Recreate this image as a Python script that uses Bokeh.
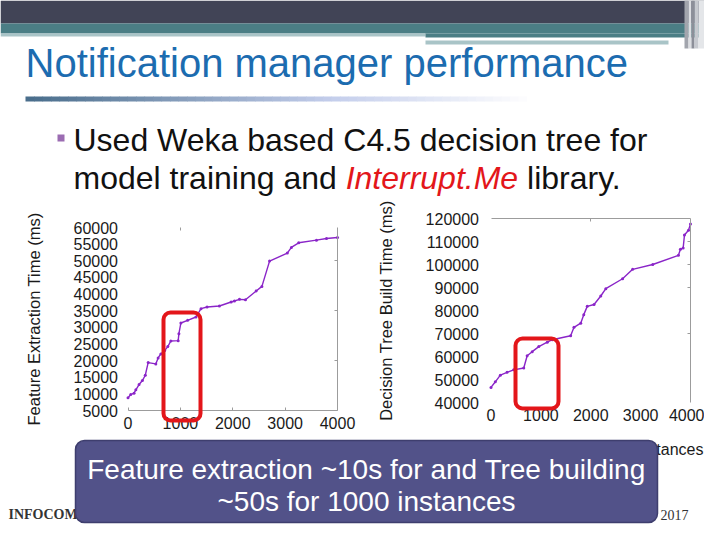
from bokeh.plotting import figure
from bokeh.models import (Range1d, LinearAxis, FixedTicker, Label, BoxAnnotation,
                          ColumnDataSource, BasicTickFormatter)
from bokeh.embed import file_html
from bokeh.resources import INLINE

# ---------------- data ----------------
fe_instances = [0, 52, 115, 150, 211, 275, 330, 385, 531, 575, 627, 700, 760, 818, 958, 972,
                1010, 1138, 1298, 1394, 1509, 1745, 1969, 2032, 2128, 2243, 2448, 2557, 2703,
                3042, 3119, 3259, 3598, 3790, 4000]
fe_time_ms = [8800, 9800, 10200, 11200, 12800, 14000, 15600, 19400, 19000, 20800, 22000, 23000,
              24200, 25900, 26000, 28100, 31300, 32100, 33100, 35600, 36100, 36400, 37600,
              37900, 38400, 38300, 40900, 42300, 49900, 52300, 54000, 55400, 56200, 56700, 57000]

dt_instances = [0, 87, 187, 322, 456, 657, 725, 826, 959, 1128, 1229, 1597, 1664, 1799, 1860,
                1930, 2066, 2201, 2302, 2638, 2840, 3243, 3758, 3798, 3853, 3879, 3960, 4000]
dt_time_ms = [46550, 49000, 51900, 53100, 54200, 55000, 60300, 62100, 64300, 66200, 67300,
              69000, 72700, 74500, 78200, 81800, 82600, 86300, 89500, 93800, 97900, 100000,
              104000, 106600, 107200, 112800, 114900, 117600]

x_ticks = [0, 1000, 2000, 3000, 4000]
fe_y_ticks = [5000, 10000, 15000, 20000, 25000, 30000, 35000, 40000, 45000, 50000, 55000, 60000]
dt_y_ticks = [40000, 50000, 60000, 70000, 80000, 90000, 100000, 110000, 120000]

title_text = "Notification manager performance"
bullet_line1 = "Used Weka based C4.5 decision tree for"
bullet_line2a = "model training and"
bullet_line2b = "Interrupt.Me"
bullet_line2c = "library."
fe_ylabel = "Feature Extraction Time (ms)"
dt_ylabel = "Decision Tree Build Time (ms)"
xlabel = "Number of Instances"
callout1 = "Feature extraction ~10s for and Tree building"
callout2 = "~50s for 1000 instances"

# ---------------- slide canvas (pixel coordinates of the slide) ----------------
W, H = 704, 524
X0, X1 = 0, 704
YB, YT = 524, 0
p = figure(width=W, height=H, x_range=Range1d(X0, X1), y_range=Range1d(YB, YT),
           min_border=0, x_axis_location=None, y_axis_location=None,
           output_backend="svg", toolbar_location=None, outline_line_color=None,
           background_fill_color="white", border_fill_color="white")
p.grid.visible = False


def mapped(d0, p0, d1, p1, lo, hi):
    k = (d1 - d0) / (p1 - p0)
    return Range1d(start=d0 + (lo - p0) * k, end=d0 + (hi - p0) * k)


p.extra_x_ranges = {
    "lx": mapped(0, 127.5, 4000, 337, X0, X1),
    "rx": mapped(0, 490.5, 4000, 690, X0, X1),
}
p.extra_y_ranges = {
    "ly": mapped(5000, 410, 60000, 227, YB, YT),
    "ry": mapped(40000, 402, 120000, 218, YB, YT),
}

FONT = "Liberation Sans"


def box(l, r, t, b, color, **kw):
    p.add_layout(BoxAnnotation(left=l, right=r, top=t, bottom=b, fill_color=color,
                               fill_alpha=1, line_color=None, level="underlay", **kw))


# header bars
box(0, 720, 0, 23, "#414456")
box(0, 720, 23, 33, "#4b7e85")
box(0, 425, 33, 36, "#a9c4c7")
box(425, 720, 33, 37, "#4b7e85")
box(425, 668, 40, 44, "#a9c4c7")
for l, r, c in [(684, 688, "#a2a5ad"), (688, 691, "#dcdee2"), (691, 694, "#8c8f99"),
                (694, 698, "#c6c9cf"), (698, 704, "#e4e6e9")]:
    box(l, r, 0, 48, c)

# gradient underline below title
n = 60
gx0, gx1 = 25, 535
c0 = (74, 110, 140)
c1 = (196, 206, 236)
for i in range(n):
    t = i / (n - 1)
    if t < 0.6:
        u = t / 0.6
        col = tuple(int(c0[j] + (c1[j] - c0[j]) * u) for j in range(3))
    else:
        u = (t - 0.6) / 0.4
        col = tuple(int(c1[j] + (255 - c1[j]) * u) for j in range(3))
    l = gx0 + (gx1 - gx0) * i / n
    r = gx0 + (gx1 - gx0) * (i + 1) / n + 0.6
    box(l, r, 96, 101, "#%02x%02x%02x" % col)

# title
p.add_layout(Label(x=25, y=62, text=title_text, text_font=FONT, text_font_size="40px",
                   text_color="#1c6cb0", text_baseline="middle", text_align="left"))

# bullet
box(57, 64, 134, 141, "#9b6cb2")
fs = 32
fs_txt = "%dpx" % fs
p.add_layout(Label(x=73, y=139, text=bullet_line1, text_font=FONT, text_font_size=fs_txt,
                   text_color="#111111", text_baseline="middle"))
w_2a = 8.504 * fs
w_2b = 5.391 * fs
p.add_layout(Label(x=73, y=177, text=bullet_line2a, text_font=FONT, text_font_size=fs_txt,
                   text_color="#111111", text_baseline="middle"))
p.add_layout(Label(x=73 + w_2a, y=177, text=bullet_line2b, text_font=FONT,
                   text_font_size=fs_txt, text_font_style="italic",
                   text_color="#e3161a", text_baseline="middle"))
p.add_layout(Label(x=73 + w_2a + w_2b + 0.278 * fs, y=177, text=bullet_line2c, text_font=FONT,
                   text_font_size=fs_txt, text_color="#111111", text_baseline="middle"))

# ---------------- charts ----------------
GRAY = "#9c9c9c"


def axis(side, xr, yr, loc, ticks, bounds, labels=True, line=True, tick_in=0,
         label=None, standoff=10, label_standoff=30):
    ax = LinearAxis(x_range_name=xr, y_range_name=yr, fixed_location=loc,
                    ticker=FixedTicker(ticks=ticks, minor_ticks=[]), bounds=bounds,
                    formatter=BasicTickFormatter(use_scientific=False),
                    major_tick_in=tick_in, major_tick_out=0,
                    minor_tick_in=0, minor_tick_out=0,
                    axis_line_color=GRAY if line else None, axis_line_width=1,
                    major_tick_line_color=GRAY if tick_in else None,
                    major_label_text_font=FONT, major_label_text_font_size="16px",
                    major_label_text_color="#1a1a1a", major_label_standoff=standoff)
    if not labels:
        ax.major_label_overrides = {t: "" for t in ticks}
    if label:
        ax.axis_label = label
        ax.axis_label_text_font = FONT
        ax.axis_label_text_font_size = "16.5px"
        ax.axis_label_text_font_style = "normal"
        ax.axis_label_text_color = "#1a1a1a"
        ax.axis_label_standoff = label_standoff
    p.add_layout(ax, side)
    return ax


# left chart: feature extraction
axis("below", "lx", "ly", 5000, x_ticks, (0, 4000), tick_in=3, standoff=6)
axis("left", "lx", "ly", 0, fe_y_ticks, (5000, 60000), line=False, standoff=10,
     label=fe_ylabel, label_standoff=28)
axis("right", "lx", "ly", 4000, [20000, 35000, 50000], (5000, 60000), labels=False, tick_in=3)
axis("above", "lx", "ly", 60000, [1000], (0, 4000), labels=False, line=False, tick_in=3)

# right chart: decision tree build
axis("below", "rx", "ry", 40000, x_ticks, (0, 4000), line=False, standoff=6)
axis("left", "rx", "ry", 0, dt_y_ticks, (40000, 120000), line=False, standoff=12,
     label=dt_ylabel, label_standoff=28)
axis("right", "rx", "ry", 4000, [70000, 90000, 100000, 110000], (40000, 120000),
     labels=False, tick_in=3)
axis("above", "rx", "ry", 120000, [2000], (0, 4000), labels=False, tick_in=3)

LINE = "#8a25c8"
src_fe = ColumnDataSource(dict(x=fe_instances, y=fe_time_ms))
src_dt = ColumnDataSource(dict(x=dt_instances, y=dt_time_ms))
p.line("x", "y", source=src_fe, x_range_name="lx", y_range_name="ly",
       line_color=LINE, line_width=1.4)
p.scatter("x", "y", source=src_fe, x_range_name="lx", y_range_name="ly",
          marker="circle", size=3, fill_color=LINE, line_color=None)
p.line("x", "y", source=src_dt, x_range_name="rx", y_range_name="ry",
       line_color=LINE, line_width=1.4)
p.scatter("x", "y", source=src_dt, x_range_name="rx", y_range_name="ry",
          marker="circle", size=3, fill_color=LINE, line_color=None)

# x label of right chart (mostly hidden by the callout)
p.add_layout(Label(x=703, y=449, text=xlabel, text_font=FONT, text_font_size="16px",
                   text_color="#1a1a1a", text_align="right", text_baseline="middle"))

# red highlight boxes
for l, r, t, b in [(163, 200, 312, 420), (515, 558, 338, 408)]:
    p.add_layout(BoxAnnotation(left=l, right=r, top=t, bottom=b, fill_alpha=0,
                               fill_color=None, line_color="#e3161a", line_alpha=1,
                               line_width=4, border_radius=7))

# footer
p.add_layout(Label(x=8, y=514, text="INFOCOM", text_font="Liberation Serif",
                   text_font_size="14px", text_font_style="bold", text_color="#333333",
                   text_baseline="middle"))
p.add_layout(Label(x=660, y=514, text="2017", text_font="Liberation Serif",
                   text_font_size="14px", text_color="#333333", text_baseline="middle"))

# callout
p.add_layout(BoxAnnotation(left=75, right=657, top=440, bottom=522, fill_color="#525289",
                           fill_alpha=1, line_color="#3e3e6e", line_alpha=1, line_width=1.5,
                           border_radius=9))
p.add_layout(Label(x=366, y=469, text=callout1, text_font=FONT, text_font_size="28px",
                   text_color="white", text_align="center", text_baseline="middle"))
p.add_layout(Label(x=366, y=501, text=callout2, text_font=FONT, text_font_size="28px",
                   text_color="white", text_align="center", text_baseline="middle"))

open("out.html", "w").write(file_html(p, INLINE))
